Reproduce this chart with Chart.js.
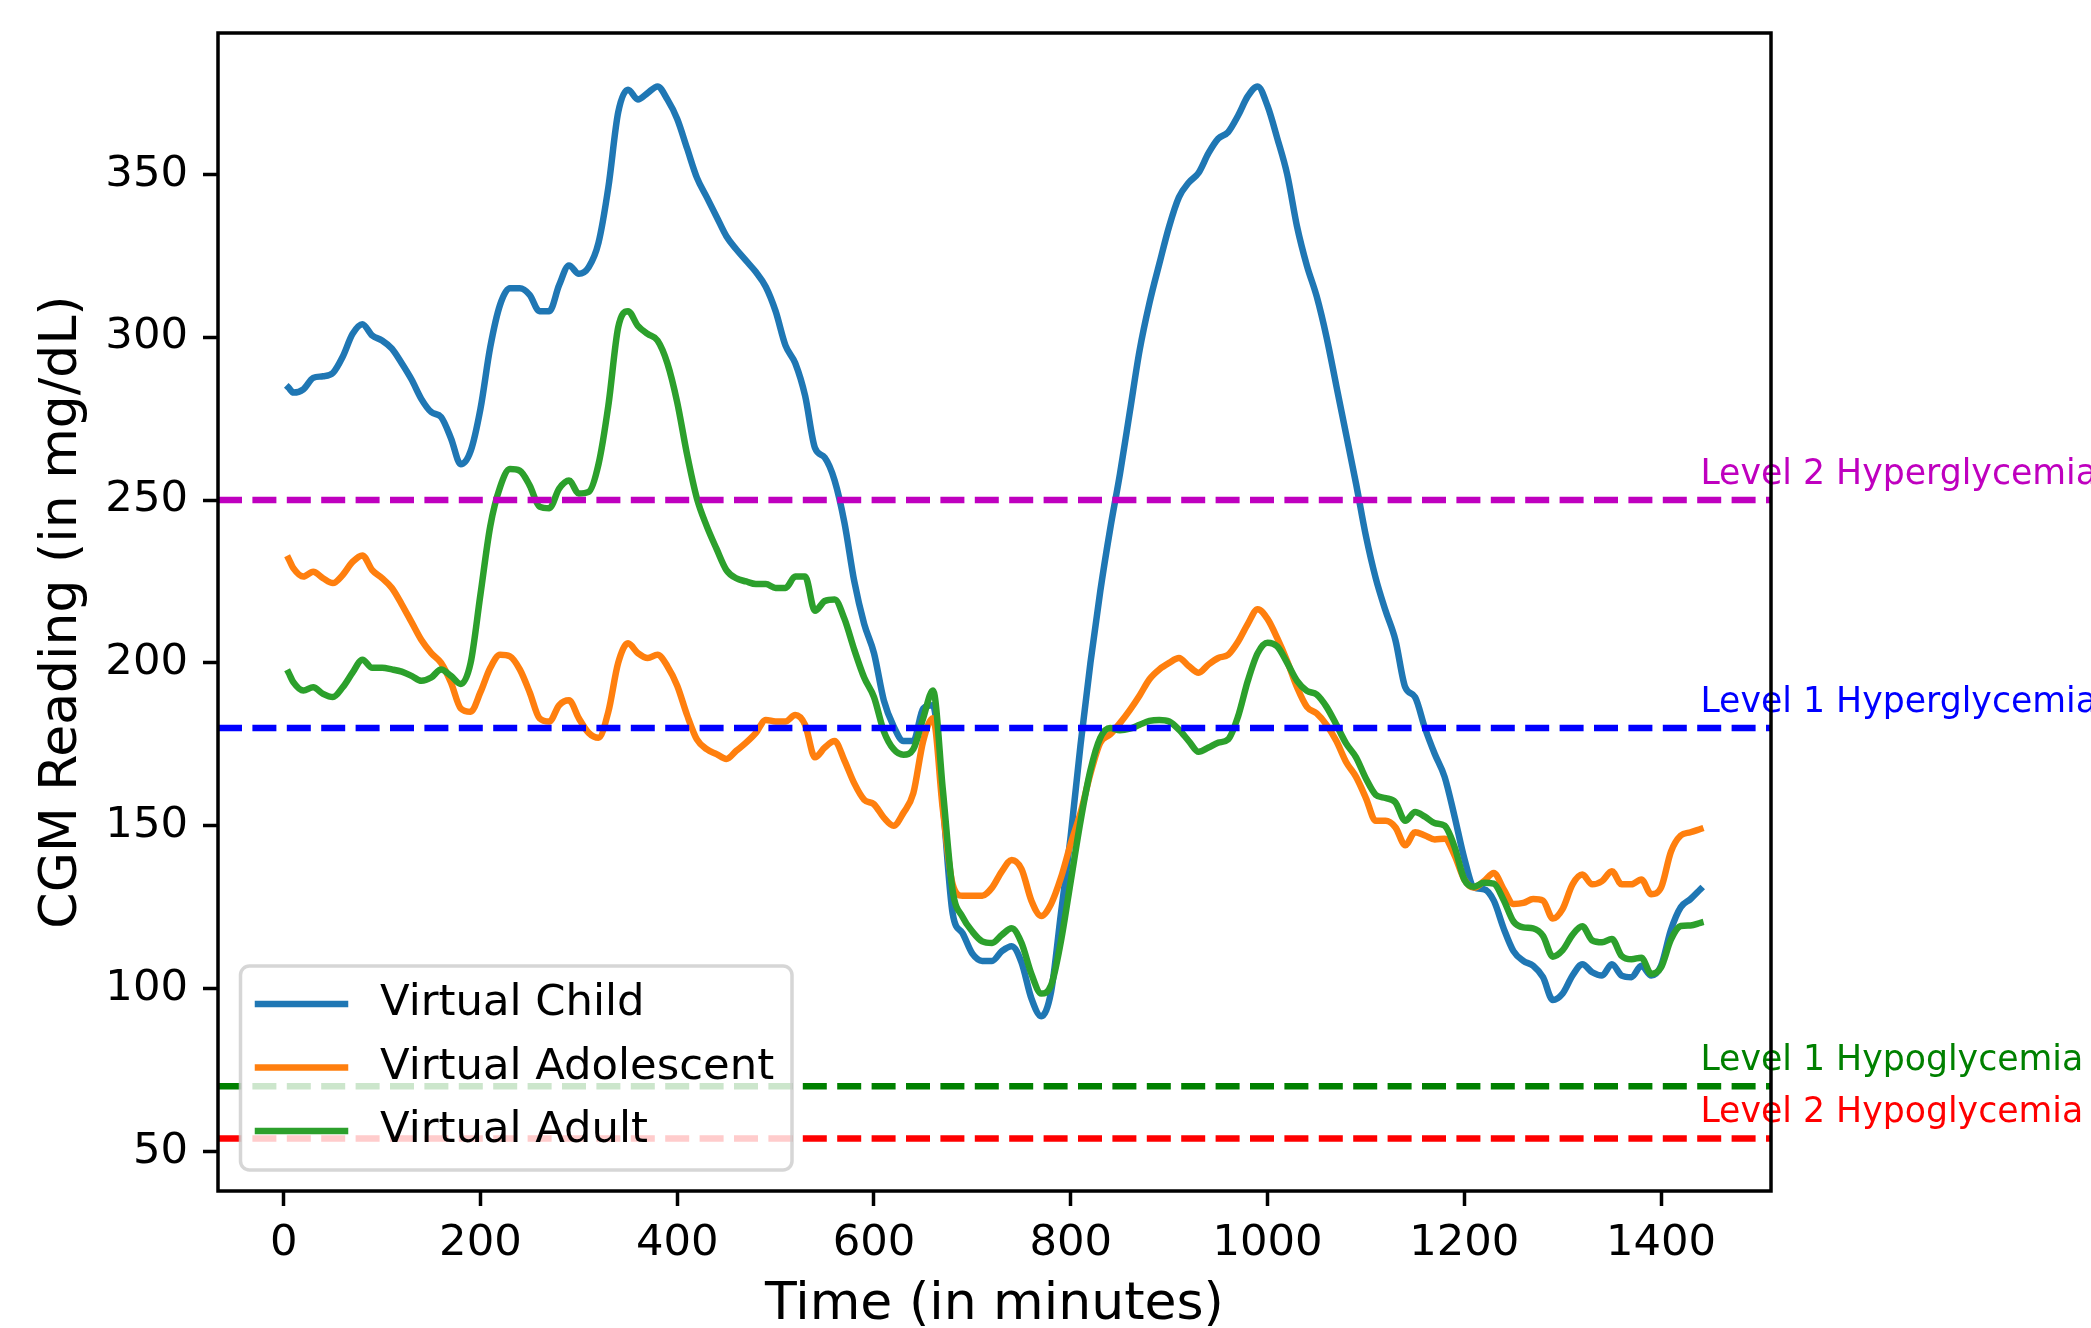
<!DOCTYPE html>
<html lang="en">
<head>
  <meta charset="UTF-8" />
  <title>CGM Readings - Virtual Patients</title>
  <script src="https://cdn.jsdelivr.net/npm/chart.js"></script>
  <style>
    html, body { margin: 0; padding: 0; background: #fff; }
    #chartBox { width: 2091px; height: 1328px; }
  </style>
</head>
<body>
  <div id="chartBox"><canvas id="cgmChart" width="2091" height="1328"></canvas></div>

  <script>
    // time in minutes
    const times = [
      5, 10, 20, 30, 40, 50, 60, 70, 80, 90,
      100, 110, 120, 130, 140, 150, 160, 170, 180, 190,
      200, 210, 220, 230, 240, 250, 260, 270, 280, 290,
      300, 310, 320, 330, 340, 350, 360, 370, 380, 390,
      400, 410, 420, 430, 440, 450, 460, 470, 480, 490,
      500, 510, 520, 530, 540, 550, 560, 570, 580, 590,
      600, 610, 620, 630, 640, 650, 660, 670, 680, 690,
      700, 710, 720, 730, 740, 750, 760, 770, 780, 790,
      800, 810, 820, 830, 840, 850, 860, 870, 880, 890,
      900, 910, 920, 930, 940, 950, 960, 970, 980, 990,
      1000, 1010, 1020, 1030, 1040, 1050, 1060, 1070, 1080, 1090,
      1100, 1110, 1120, 1130, 1140, 1150, 1160, 1170, 1180, 1190,
      1200, 1210, 1220, 1230, 1240, 1250, 1260, 1270, 1280, 1290,
      1300, 1310, 1320, 1330, 1340, 1350, 1360, 1370, 1380, 1390,
      1400, 1410, 1420, 1430, 1440
    ];

    const childCgm = [
      284.5, 283, 284, 287.5, 288, 289, 294, 301, 304, 300.5,
      299, 296.5, 292, 287, 281, 277, 275.5, 269, 261, 265,
      278, 297, 310, 315, 315, 313, 308, 308, 316, 322,
      319.5, 321.5, 329, 346, 369, 376, 373, 375, 377, 373,
      367, 358, 349, 343, 337, 331, 327, 323.5, 320, 315.5,
      308, 297.5, 292, 282, 266, 263, 256, 243, 225, 212,
      203, 188.5, 180.5, 176, 176, 186, 187, 157, 123, 117,
      110.7, 108.5, 108.5, 111.5, 113, 108, 97, 91.5, 99, 123,
      147, 175, 200, 222, 241, 258, 277, 296, 310.5, 322.5,
      334, 343, 347.5, 350.5, 356.5, 361, 363, 368, 374, 377,
      371, 361, 350, 334, 322, 312.5, 300, 285, 270, 255,
      239, 226, 216, 207, 192.5, 189.5, 180, 172, 165, 153,
      140, 131, 130.5, 127, 118.5, 111.5, 108.5, 107, 103.5, 96.5,
      98.5, 104, 107.5, 105, 104, 107.5, 104, 103.5, 107, 104,
      107, 118, 125, 127.5, 130.5
    ];

    const adolescentCgm = [
      232, 229, 226.5, 228, 226, 224.5, 227, 231, 233, 228.5,
      226, 223, 218, 212.5, 207, 203, 200, 194, 186, 185,
      191, 198.5, 202.5, 202, 198, 191, 183, 182, 187, 188.5,
      183, 178.5, 177, 185, 200, 206, 203, 201.5, 202.5, 199,
      193, 184, 176.5, 173.5, 172, 170.5, 173, 175.5, 178.5, 182.5,
      182, 182, 184, 181, 171, 174, 176, 170, 163, 158,
      156.6, 152.5, 150, 154, 160, 176, 183, 155, 132, 128.5,
      128.5, 128.5, 131, 136, 139.5, 136.7, 127, 122.3, 126, 134,
      144.5, 154, 166, 175.5, 178, 181.5, 185.5, 190, 195, 198,
      200, 201.5, 199, 197, 199.5, 201.5, 202.5, 206.5, 212, 216.5,
      213.5, 207.5, 200.5, 192.5, 186.5, 184.5, 181, 176, 169.5, 165,
      158.5, 151.5, 151.5, 149.5, 144, 148, 147, 145.8, 146, 141,
      133.5, 131, 133, 135.5, 130.5, 126, 126.3, 127.5, 127, 121.5,
      124.5, 132, 135, 132, 133, 136, 132, 132, 133.5, 129,
      131, 142, 147, 148, 149
    ];

    const adultCgm = [
      197, 194, 191.5, 192.5, 190.5, 189.5, 192.5, 197, 201, 198.5,
      198.5, 198, 197.3, 196, 194.5, 195.5, 198, 196, 193.5, 200,
      221, 242, 254, 259.5, 259, 254.5, 248, 247.5, 253.5, 256,
      252, 252.5, 261, 279, 303, 308, 303.5, 301, 299, 292,
      280, 264, 250.5, 242, 235, 228.5, 226, 225, 224.2, 224.2,
      223, 223, 226.5, 226.5, 216, 219, 219.5, 213.5, 204, 195.5,
      189.5, 179, 173.5, 171.8, 173.5, 183, 191.5, 161, 130, 122,
      117.5, 114.5, 114, 116.5, 118.5, 114, 104.5, 98.5, 101, 114.5,
      133, 151.5, 167, 177, 180, 179.3, 179.8, 181, 182.2, 182.5,
      182, 179.5, 176, 172.7, 174, 175.5, 176.5, 183.5, 194.5, 203,
      206.2, 205, 200, 194.5, 191.4, 190.3, 186.5, 181, 175.2, 171,
      164.5, 159.5, 158.5, 157.2, 151.5, 154.2, 152.8, 150.8, 150, 143.6,
      133.5, 131.3, 132.5, 132.2, 127.2, 120.6, 118.8, 118.5, 116.2, 109.8,
      111.8, 116.5, 119.1, 114.8, 114.2, 115.2, 110, 109, 109.5, 104.5,
      106.5, 115, 119.2, 119.4, 120.2
    ];

    const seriesNames = ["Virtual Child", "Virtual Adolescent", "Virtual Adult"];
    const seriesColors = ["#1f77b4", "#ff7f0e", "#2ca02c"];

    const thresholdValues = [250, 180, 70, 54];
    const thresholdNames = ["Level 2 Hyperglycemia", "Level 1 Hyperglycemia", "Level 1 Hypoglycemia", "Level 2 Hypoglycemia"];
    const thresholdColors = ["#bf00bf", "#0000ff", "#008000", "#ff0000"];
    const labelTime = 1440;

    const xTicks = [0, 200, 400, 600, 800, 1000, 1200, 1400];
    const yTicks = [50, 100, 150, 200, 250, 300, 350];
    const xMin = -66.75, xMax = 1511.75;
    const yMin = 37.85, yMax = 393.4;

    const FONT = "DejaVu Sans";

    const seriesData = [childCgm, adolescentCgm, adultCgm];

    function toPoints(values) {
      return times.map((t, i) => ({ x: t, y: values[i] }));
    }

    const datasets = [];
    // threshold lines first so they draw above the curves
    thresholdValues.forEach((v, i) => {
      datasets.push({
        label: thresholdNames[i],
        data: [{ x: xMin, y: v }, { x: xMax, y: v }],
        borderColor: thresholdColors[i],
        borderWidth: 6.5,
        borderDash: [24, 10.4],
        borderCapStyle: "butt",
        pointRadius: 0,
        order: 0
      });
    });
    seriesData.forEach((vals, i) => {
      datasets.push({
        label: seriesNames[i],
        data: toPoints(vals),
        borderColor: seriesColors[i],
        borderWidth: 6.5,
        borderJoinStyle: "round",
        borderCapStyle: "square",
        cubicInterpolationMode: "monotone",
        pointRadius: 0,
        order: 3 - i
      });
    });

    const overlayPlugin = {
      id: "overlay",
      afterDatasetsDraw(chart) {
        const { ctx, chartArea: a, scales } = chart;
        const x = scales.x, y = scales.y;
        ctx.save();

        // threshold captions
        ctx.font = "34.7px '" + FONT + "'";
        ctx.textAlign = "left";
        ctx.textBaseline = "alphabetic";
        thresholdValues.forEach((v, i) => {
          ctx.fillStyle = thresholdColors[i];
          ctx.fillText(thresholdNames[i], x.getPixelForValue(labelTime), y.getPixelForValue(v + 5));
        });

        // legend box
        const bx = a.left + 22.5, by = a.bottom - 225;
        const bw = 551.5, bh = 204;
        ctx.beginPath();
        ctx.roundRect(bx, by, bw, bh, 9);
        ctx.fillStyle = "rgba(255,255,255,0.8)";
        ctx.fill();
        ctx.lineWidth = 3.5;
        ctx.strokeStyle = "rgba(204,204,204,0.8)";
        ctx.stroke();

        ctx.font = "43.3px '" + FONT + "'";
        ctx.textBaseline = "middle";
        seriesNames.forEach((name, i) => {
          const ly = a.bottom - 187 + i * 63.5;
          ctx.beginPath();
          ctx.moveTo(a.left + 40, ly);
          ctx.lineTo(a.left + 127, ly);
          ctx.lineWidth = 6.5;
          ctx.lineCap = "square";
          ctx.strokeStyle = seriesColors[i];
          ctx.stroke();
          ctx.fillStyle = "#000";
          ctx.fillText(name, a.left + 162, ly);
        });

        // axes frame
        ctx.lineWidth = 3.5;
        ctx.strokeStyle = "#000";
        ctx.lineCap = "butt";
        ctx.strokeRect(a.left, a.top, a.right - a.left, a.bottom - a.top);
        ctx.restore();
      }
    };

    const tickFont = { family: FONT, size: 43.3 };
    const titleFont = { family: FONT, size: 52 };

    new Chart(document.getElementById("cgmChart"), {
      type: "line",
      data: { datasets: datasets },
      options: {
        responsive: false,
        animation: false,
        devicePixelRatio: 1,
        layout: { padding: { left: 0, top: 33, right: 320, bottom: 0 } },
        plugins: {
          legend: { display: false },
          tooltip: { enabled: false }
        },
        scales: {
          x: {
            type: "linear",
            min: xMin,
            max: xMax,
            afterBuildTicks: s => { s.ticks = xTicks.map(v => ({ value: v })); },
            afterFit: s => {
              s.height = 137;
              s.paddingLeft = 0; s.paddingRight = 0;
            },
            grid: { drawOnChartArea: false, drawTicks: true, tickLength: 15, tickWidth: 3.5, tickColor: "#000" },
            border: { display: false },
            ticks: { color: "#000", padding: 12, font: tickFont, maxRotation: 0, autoSkip: false, callback: v => String(v) },
            title: { display: true, text: "Time (in minutes)", color: "#000", font: { family: FONT, size: 52, lineHeight: 0.9 }, padding: { top: 0, bottom: -1 } }
          },
          y: {
            min: yMin,
            max: yMax,
            afterBuildTicks: s => { s.ticks = yTicks.map(v => ({ value: v })); },
            afterFit: s => {
              s.width = 218;
              s.paddingTop = 0; s.paddingBottom = 0;
            },
            grid: { drawOnChartArea: false, drawTicks: true, tickLength: 15, tickWidth: 3.5, tickColor: "#000" },
            border: { display: false },
            ticks: { color: "#000", padding: 15, font: tickFont, autoSkip: false, callback: v => String(v) },
            title: { display: true, text: "CGM Reading (in mg/dL)", color: "#000", font: titleFont, padding: { top: 31, bottom: 0 } }
          }
        }
      },
      plugins: [overlayPlugin]
    });
  </script>
</body>
</html>
